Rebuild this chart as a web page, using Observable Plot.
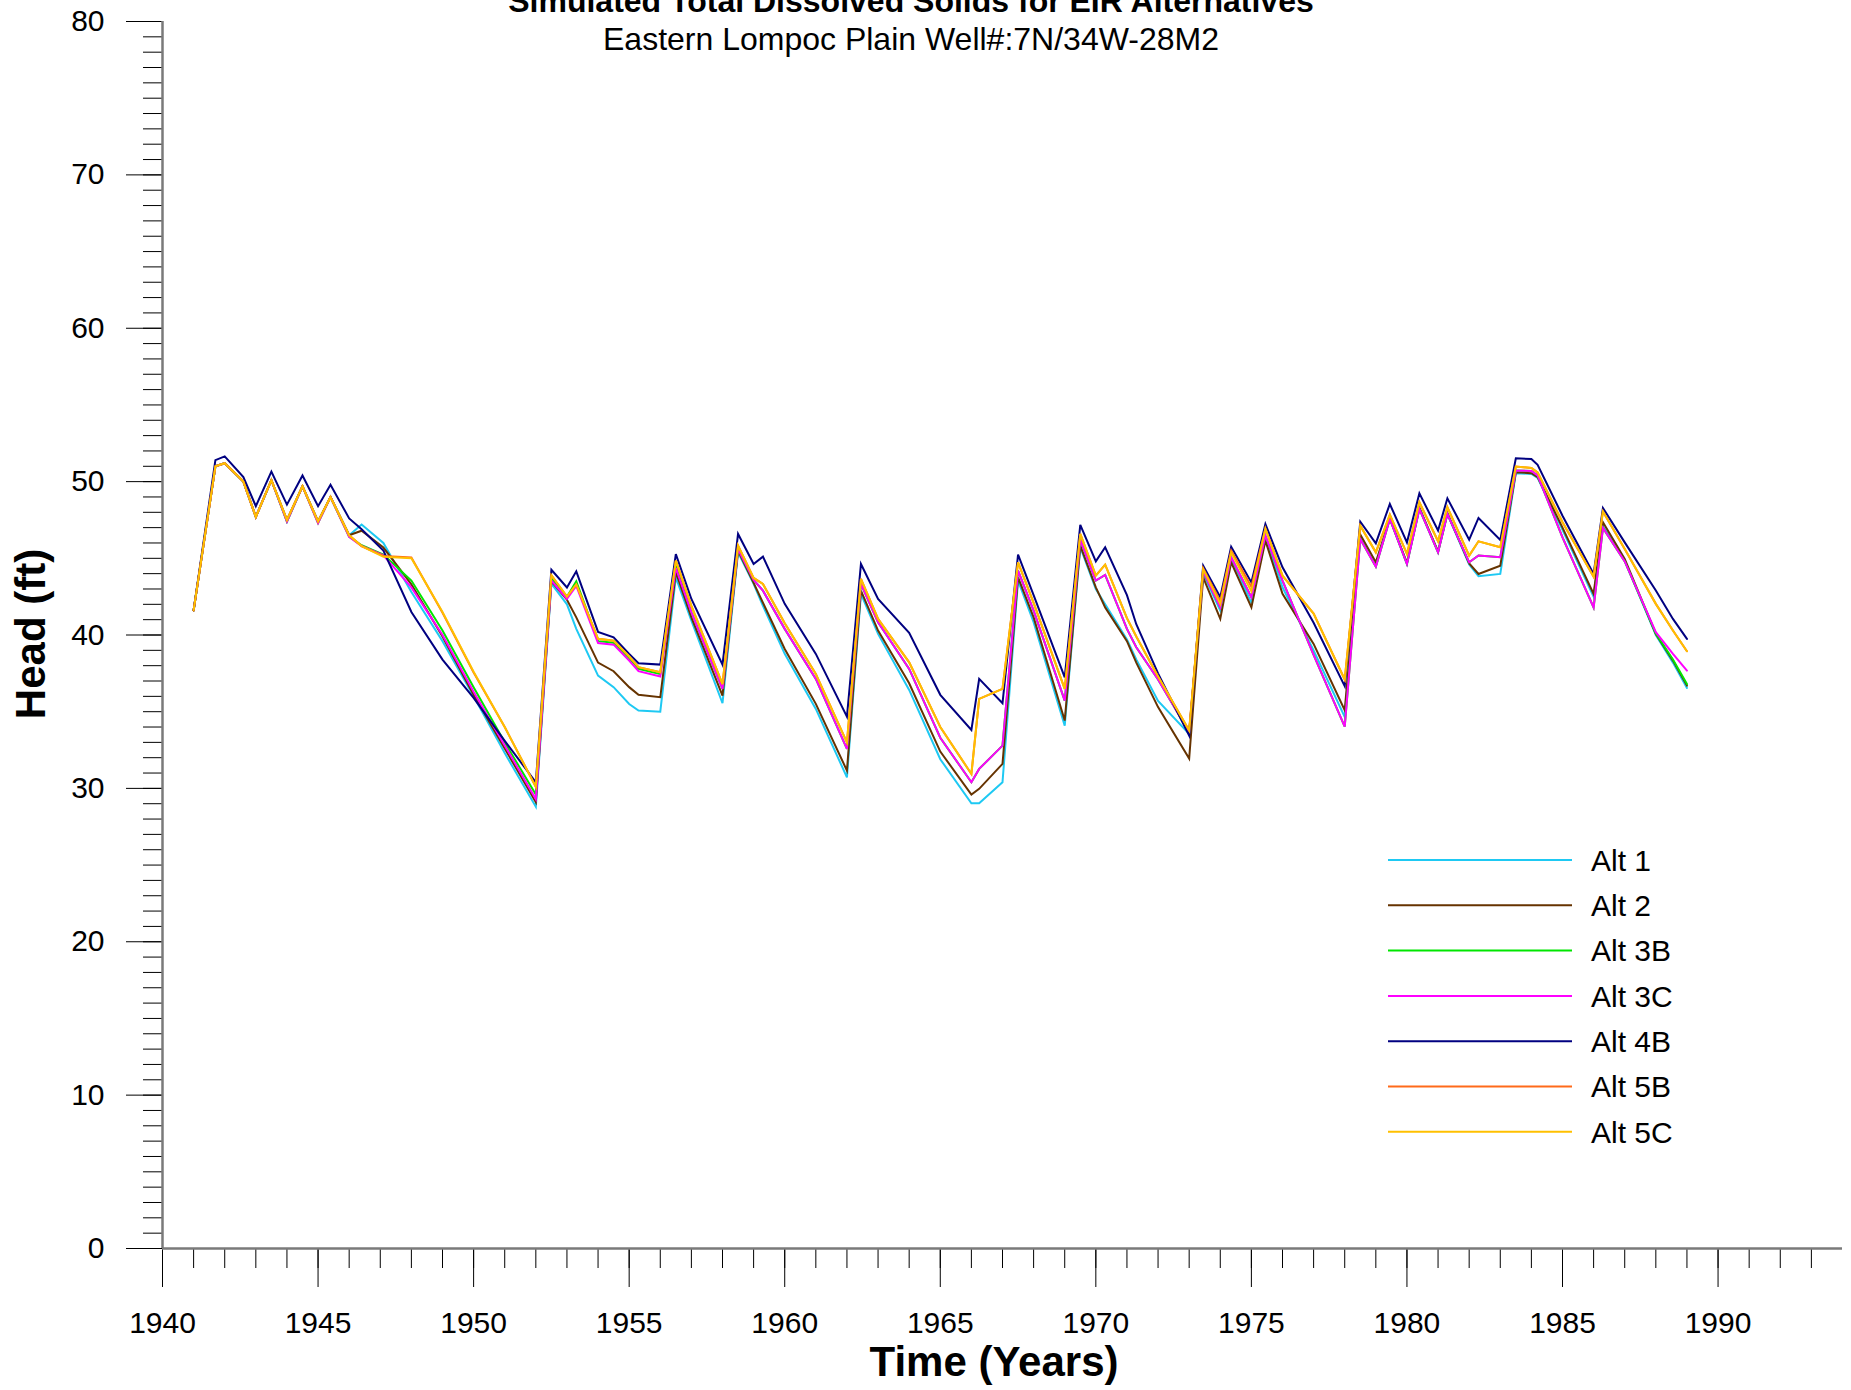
<!DOCTYPE html>
<html>
<head>
<meta charset="utf-8">
<script src="https://cdn.jsdelivr.net/npm/d3@7"></script>
<script src="https://cdn.jsdelivr.net/npm/@observablehq/plot@0.6"></script>
<style>
  html, body { margin: 0; padding: 0; background: #fff; }
  #chart { position: relative; width: 1851px; height: 1390px; }
</style>
</head>
<body>
<div id="chart"></div>
<script>
const titleText = "Simulated Total Dissolved Solids for EIR Alternatives";
const subtitleText = "Eastern Lompoc Plain Well#:7N/34W-28M2";
const xLabel = "Time (Years)";
const yLabel = "Head (ft)";

const seriesNames = ["Alt 1", "Alt 2", "Alt 3B", "Alt 3C", "Alt 4B", "Alt 5B", "Alt 5C"];
const seriesColors = ["#1ec9f3", "#663300", "#00e600", "#ff00ff", "#000080", "#ff6a1a", "#ffc000"];

const xTicks = [1940, 1945, 1950, 1955, 1960, 1965, 1970, 1975, 1980, 1985, 1990];
const yTicks = [0, 10, 20, 30, 40, 50, 60, 70, 80];

const years = [1941.0, 1941.7, 1942.0, 1942.6, 1943.0, 1943.5, 1944.0, 1944.5, 1945.0, 1945.4,
  1946.0, 1946.4, 1947.1, 1948.0, 1949.0, 1950.0, 1951.0, 1952.0, 1952.5, 1953.0,
  1953.3, 1954.0, 1954.5, 1955.0, 1955.3, 1956.0, 1956.5, 1957.0, 1958.0, 1958.5,
  1959.0, 1959.3, 1960.0, 1961.0, 1962.0, 1962.45, 1963.0, 1964.0, 1965.0, 1966.0,
  1966.25, 1967.0, 1967.5, 1968.0, 1969.0, 1969.5, 1970.0, 1970.3, 1971.0, 1971.3,
  1972.0, 1973.0, 1973.45, 1974.0, 1974.35, 1975.0, 1975.45, 1976.0, 1977.0, 1978.0,
  1978.5, 1979.0, 1979.45, 1980.0, 1980.4, 1981.0, 1981.3, 1982.0, 1982.3, 1983.0,
  1983.5, 1984.0, 1984.2, 1985.0, 1986.0, 1986.3, 1987.0, 1988.0, 1988.55, 1989.0];

const alt1 = [41.6, 51.0, 51.2, 50.0, 47.7, 50.1, 47.4, 49.7, 47.4, 49.0,
  46.5, 47.2, 46.0, 42.8, 39.6, 36.0, 32.3, 28.8, 43.35, 42.0,
  40.4, 37.35, 36.6, 35.5, 35.07, 35.0, 43.76, 40.94, 35.55, 45.39,
  43.33, 41.9, 38.77, 35.18, 30.72, 42.68, 40.07, 36.42, 31.9, 29.03,
  29.03, 30.4, 43.55, 40.83, 34.09, 45.72, 43.0, 42.0, 39.7, 38.4,
  35.7, 33.55, 44.0, 41.59, 45.0, 42.1, 46.3, 43.11, 39.0, 34.66,
  46.35, 44.5, 47.6, 44.65, 48.25, 45.4, 47.9, 44.6, 43.83, 43.98,
  50.55, 50.5, 50.25, 46.85, 42.5, 47.1, 44.85, 40.0, 38.2, 36.55];

const alt2 = [41.6, 51.0, 51.2, 50.0, 47.7, 50.1, 47.5, 49.7, 47.4, 49.0,
  46.5, 46.8, 45.7, 43.3, 39.9, 36.1, 32.6, 29.1, 43.5, 42.3,
  41.15, 38.2, 37.64, 36.6, 36.1, 35.94, 44.09, 41.15, 36.05, 45.5,
  43.4, 42.1, 39.09, 35.51, 31.16, 42.89, 40.29, 36.85, 32.4, 29.6,
  29.97, 31.6, 43.76, 41.15, 34.42, 45.83, 43.11, 41.8, 39.6, 38.2,
  35.3, 31.95, 43.76, 41.05, 44.74, 41.8, 46.15, 42.68, 39.42, 35.1,
  46.55, 44.74, 47.6, 44.7, 48.3, 45.45, 47.95, 44.67, 43.98, 44.52,
  50.61, 50.55, 50.3, 47.0, 42.68, 47.35, 44.96, 40.07, 38.33, 36.7];

const alt3B = [41.6, 51.0, 51.2, 50.0, 47.7, 50.1, 47.4, 49.7, 47.3, 49.0,
  46.4, 45.85, 45.25, 43.55, 40.3, 36.6, 33.0, 29.6, 43.7, 42.5,
  43.5, 39.6, 39.5, 38.5, 37.8, 37.45, 44.5, 41.48, 36.49, 45.61,
  43.59, 42.89, 40.4, 37.14, 32.57, 43.33, 40.83, 37.79, 33.3, 30.4,
  31.27, 32.79, 44.2, 41.59, 35.72, 46.2, 43.55, 43.92, 40.4, 39.2,
  37.1, 33.66, 44.15, 41.8, 45.07, 42.46, 46.48, 43.55, 38.7, 34.03,
  46.26, 44.46, 47.57, 44.63, 48.22, 45.39, 47.89, 44.74, 45.18, 45.07,
  50.72, 50.7, 50.4, 46.37, 41.8, 46.98, 44.8, 40.1, 38.4, 36.8];

const alt3C = [41.6, 51.0, 51.2, 50.0, 47.7, 50.1, 47.4, 49.7, 47.3, 49.0,
  46.4, 45.8, 45.2, 43.1, 40.0, 36.3, 32.8, 29.3, 43.55, 42.35,
  43.2, 39.48, 39.37, 38.33, 37.64, 37.29, 44.37, 41.48, 36.49, 45.61,
  43.59, 42.89, 40.4, 37.14, 32.57, 43.33, 40.83, 37.79, 33.3, 30.4,
  31.27, 32.79, 44.2, 41.59, 35.72, 46.2, 43.55, 43.92, 40.4, 39.2,
  37.1, 33.66, 44.15, 41.8, 45.07, 42.46, 46.48, 43.55, 38.7, 34.03,
  46.26, 44.46, 47.57, 44.63, 48.22, 45.39, 47.89, 44.74, 45.18, 45.07,
  50.72, 50.7, 50.4, 46.37, 41.8, 46.98, 44.8, 40.18, 38.77, 37.68];

const alt4B = [41.6, 51.4, 51.65, 50.3, 48.4, 50.65, 48.5, 50.4, 48.4, 49.8,
  47.6, 46.9, 45.5, 41.5, 38.4, 35.9, 33.1, 30.4, 44.25, 43.1,
  44.15, 40.2, 39.85, 38.77, 38.16, 38.07, 45.28, 42.35, 38.07, 46.59,
  44.63, 45.11, 42.03, 38.77, 34.68, 44.63, 42.35, 40.14, 36.1, 33.81,
  37.14, 35.55, 45.24, 42.6, 37.24, 47.18, 44.8, 45.72, 42.6, 40.7,
  37.5, 33.44, 44.52, 42.46, 45.76, 43.43, 47.24, 44.41, 40.8, 36.67,
  47.39, 45.98, 48.54, 46.04, 49.24, 46.81, 48.91, 46.22, 47.63, 46.2,
  51.52, 51.48, 51.1, 47.78, 43.98, 48.28, 46.04, 42.9, 41.05, 39.75];

const alt5B = [41.6, 51.0, 51.2, 50.0, 47.7, 50.1, 47.5, 49.7, 47.4, 49.0,
  46.5, 45.8, 45.15, 45.05, 41.45, 37.55, 34.0, 30.1, 43.9, 42.5,
  43.3, 39.75, 39.63, 38.6, 37.9, 37.57, 44.85, 41.9, 36.8, 45.83,
  43.72, 43.33, 40.76, 37.46, 33.0, 43.66, 41.05, 38.22, 34.0, 30.94,
  35.83, 36.49, 44.74, 42.1, 36.49, 46.59, 43.87, 44.59, 41.1, 39.9,
  37.3, 33.77, 44.35, 42.2, 45.5, 43.15, 46.95, 43.87, 41.4, 37.1,
  47.13, 45.39, 47.85, 45.29, 48.65, 46.11, 48.33, 45.18, 46.11, 45.72,
  50.98, 50.89, 50.6, 47.35, 43.8, 48.06, 45.61, 42.03, 40.29, 38.94];

const alt5C = [41.6, 51.0, 51.2, 50.0, 47.7, 50.1, 47.5, 49.7, 47.4, 49.0,
  46.5, 45.8, 45.1, 45.0, 41.5, 37.6, 34.0, 30.1, 43.9, 42.5,
  43.3, 39.75, 39.63, 38.6, 37.9, 37.57, 44.85, 41.9, 36.8, 45.83,
  43.72, 43.33, 40.76, 37.46, 33.0, 43.66, 41.05, 38.22, 34.0, 30.94,
  35.83, 36.49, 44.74, 42.1, 36.49, 46.59, 43.87, 44.59, 41.1, 39.9,
  37.3, 33.77, 44.3, 42.03, 45.39, 42.85, 46.92, 43.87, 41.4, 37.1,
  47.13, 45.39, 47.85, 45.29, 48.65, 46.11, 48.33, 45.18, 46.11, 45.72,
  50.98, 50.89, 50.6, 47.35, 43.8, 48.06, 45.61, 42.03, 40.29, 38.94];

const seriesValues = [alt1, alt2, alt3B, alt3C, alt4B, alt5B, alt5C];

const rows = [];
seriesNames.forEach((name, i) => {
  years.forEach((t, j) => rows.push({series: name, year: t, head: seriesValues[i][j]}));
});

const FONT = "'Liberation Sans', Arial, Helvetica, sans-serif";
const W = 1851, H = 1390;

const plot = Plot.plot({
  width: W,
  height: H,
  marginLeft: 162,
  marginRight: 9,
  marginTop: 21,
  marginBottom: 142,
  style: {fontFamily: FONT, fontSize: "30px", color: "#000", background: "#fff", overflow: "visible"},
  x: {domain: [1940, 1994], label: null},
  y: {domain: [0, 80], label: null},
  color: {domain: seriesNames, range: seriesColors},
  marks: [
    Plot.axisY({ticks: d3.range(0, 81, 1), tickSize: 19, tickFormat: () => "", label: null, stroke: "#000", strokeWidth: 1}),
    Plot.axisY({ticks: yTicks, tickSize: 36, tickPadding: 22, label: null, fontSize: 30, stroke: "#000", strokeWidth: 1}),
    Plot.axisX({ticks: d3.range(1941, 1994, 1), tickSize: 20, tickFormat: () => "", label: null, stroke: "#000", strokeWidth: 1}),
    Plot.axisX({ticks: xTicks, tickSize: 39, tickPadding: 24, tickFormat: d => String(d), label: null, fontSize: 30, stroke: "#000", strokeWidth: 1}),
    Plot.line(rows, {x: "year", y: "head", z: "series", stroke: "series", strokeWidth: 2, strokeLinejoin: "miter", strokeMiterlimit: 4}),
    Plot.ruleX([1940], {stroke: "#7a7a7a", strokeWidth: 2.5}),
    Plot.ruleY([0], {stroke: "#7a7a7a", strokeWidth: 2.5})
  ]
});

const svg = d3.select(plot);
svg.append("text")
  .attr("x", 911).attr("y", 12)
  .attr("text-anchor", "middle")
  .style("font-family", FONT).style("font-size", "32px").style("font-weight", "bold")
  .text(titleText);
svg.append("text")
  .attr("x", 911).attr("y", 50)
  .attr("text-anchor", "middle")
  .style("font-family", FONT).style("font-size", "32px")
  .text(subtitleText);
svg.append("text")
  .attr("x", 994).attr("y", 1376)
  .attr("text-anchor", "middle")
  .style("font-family", FONT).style("font-size", "42px").style("font-weight", "bold")
  .text(xLabel);
svg.append("text")
  .attr("transform", "translate(45,634) rotate(-90)")
  .attr("text-anchor", "middle")
  .style("font-family", FONT).style("font-size", "42px").style("font-weight", "bold")
  .text(yLabel);

const legend = svg.append("g").attr("text-anchor", "start");
seriesNames.forEach((name, i) => {
  const y = 860 + i * 45.3;
  legend.append("line")
    .attr("x1", 1388).attr("x2", 1572).attr("y1", y).attr("y2", y)
    .attr("stroke", seriesColors[i]).attr("stroke-width", 2);
  legend.append("text")
    .attr("x", 1591).attr("y", y).attr("dy", "0.36em")
    .attr("text-anchor", "start")
    .style("font-family", FONT).style("font-size", "30px")
    .text(name);
});

document.getElementById("chart").appendChild(plot);
</script>
</body>
</html>
